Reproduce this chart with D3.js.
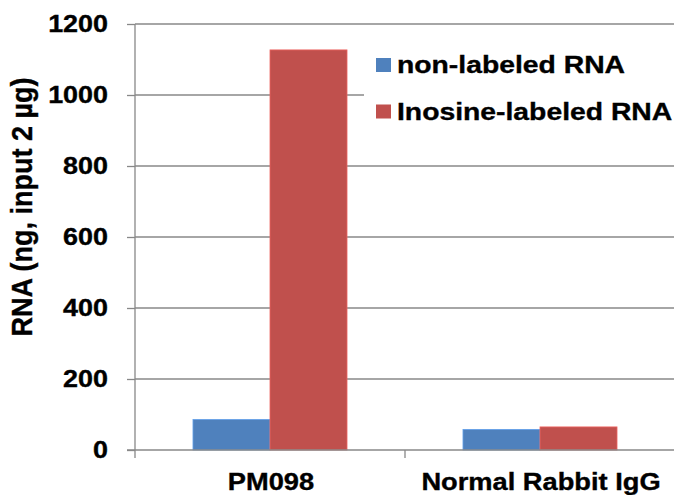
<!DOCTYPE html>
<html><head><meta charset="utf-8">
<script src="https://cdn.jsdelivr.net/npm/d3@7"></script>
<style>body{margin:0;background:#fff}text{font-family:"Liberation Sans",Arial,sans-serif;font-weight:bold;fill:#000;stroke:#000;stroke-width:0.35px}</style>
</head><body><svg id="c" width="674" height="495"></svg>
<script>
const categories = ["PM098", "Normal Rabbit IgG"];
const seriesNames = ["non-labeled RNA", "Inosine-labeled RNA"];
const nonLabeled = [86, 58];
const inosineLabeled = [1127, 65];
const yTicks = [0, 200, 400, 600, 800, 1000, 1200];
const colors = ["#4F81BD", "#C0504D"];
const seriesValues = [nonLabeled, inosineLabeled];

const svg = d3.select("#c");
const SX = 1.15;
const pLeft = 135, pRight = 675, pTop = 24, pBottom = 450;
const y = d3.scaleLinear().domain([0, 1200]).range([pBottom, pTop]);
const x0 = d3.scaleBand().domain(categories).range([pLeft, pRight]).padding(0);
const x1 = d3.scaleBand().domain(seriesNames).range([0, x0.bandwidth()]).paddingInner(0).paddingOuter(0.753);

// gridlines
svg.append("g").selectAll("line").data(yTicks.filter(d => d > 0)).join("line")
  .attr("x1", pLeft).attr("x2", pRight).attr("y1", d => y(d)).attr("y2", d => y(d))
  .attr("stroke", "#888").attr("stroke-width", 1.3);

// bars
const g = svg.append("g");
categories.forEach((c, i) => {
  seriesNames.forEach((s, j) => {
    const v = seriesValues[j][i];
    g.append("rect")
      .attr("x", x0(c) + x1(s)).attr("width", x1.bandwidth())
      .attr("y", y(v)).attr("height", y(0) - y(v))
      .attr("fill", colors[j]).attr("stroke", d3.color(colors[j]).brighter(0.6)).attr("stroke-width", 0.8);
  });
});

// y axis
const yAxis = svg.append("g").attr("transform", `translate(${pLeft},0)`)
  .call(d3.axisLeft(y).tickValues(yTicks).tickSize(8).tickFormat(d3.format("d")));
yAxis.select(".domain").attr("stroke", "#888").attr("stroke-width", 1.3).attr("d", `M0,${pTop}V${pBottom + 8}`);
yAxis.selectAll(".tick line").attr("stroke", "#888").attr("stroke-width", 1.3);
yAxis.selectAll(".tick text").attr("x", null).attr("dy", "0.36em")
  .attr("transform", `translate(-27,-1) scale(1.17,1)`)
  .attr("text-anchor", "end").style("font-size", "23px").style("font-family", "Liberation Sans, Arial, sans-serif").style("font-weight", "bold").attr("fill", "#000");

// x axis
svg.append("line").attr("x1", pLeft - 8).attr("x2", pRight).attr("y1", pBottom).attr("y2", pBottom)
  .attr("stroke", "#888").attr("stroke-width", 1.3);
svg.append("g").selectAll("line").data(categories.slice(1)).join("line")
  .attr("x1", d => x0(d)).attr("x2", d => x0(d)).attr("y1", pBottom).attr("y2", pBottom + 8)
  .attr("stroke", "#888").attr("stroke-width", 1.3);
svg.append("g").selectAll("text").data(categories).join("text")
  .attr("transform", d => `translate(${x0(d) + x0.bandwidth() / 2 + 1},490) scale(1.16,1)`)
  .attr("text-anchor", "middle").style("font-size", "23.5px").text(d => d);

// y title
svg.append("text").attr("transform", `translate(32,207) rotate(-90) scale(1,1.1)`)
  .attr("text-anchor", "middle").style("font-size", "27px").text("RNA (ng, input 2 µg)");

// legend
const lg = svg.append("g");
lg.append("rect").attr("x", 364).attr("y", 40).attr("width", 310).attr("height", 90).attr("fill", "#fff");
seriesNames.forEach((s, j) => {
  const cy = 65 + j * 46.5;
  lg.append("rect").attr("x", 376).attr("y", cy - 7).attr("width", 15).attr("height", 14).attr("fill", colors[j]);
  lg.append("text").attr("transform", `translate(397,${cy + 8}) scale(1.18,1)`)
    .style("font-size", "24px").text(s);
});
</script></body></html>
